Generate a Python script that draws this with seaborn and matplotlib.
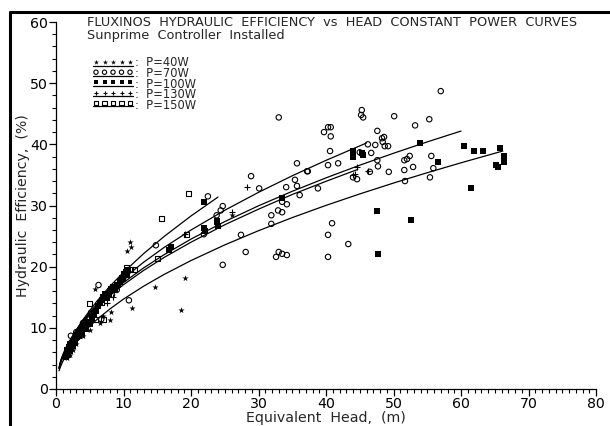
import matplotlib
matplotlib.use("Agg")
import matplotlib.pyplot as plt
from matplotlib.lines import Line2D
import seaborn as sns
import numpy as np

# ---------------- data ----------------
# fitted constant-power curves (Head m, Efficiency %)
curve_a_h = [0.45, 0.7, 1, 1.5, 2, 3, 4, 6, 8, 10, 13, 16, 20, 24]
curve_a_e = [3.3, 4.21, 5.16, 6.50, 7.65, 9.63, 11.34, 14.28, 16.81, 19.08, 22.15, 24.92, 28.29, 31.38]

curve_b_h = [0.45, 0.7, 1, 1.5, 2, 3, 4, 6, 8, 10, 13, 16, 20, 25, 30, 35, 40, 46]
curve_b_e = [3.4, 4.49, 5.41, 6.69, 7.78, 9.62, 11.19, 13.83, 16.08, 18.08, 20.74, 23.13, 25.99, 29.22, 32.15, 34.86, 37.38, 40.22]

curve_c_h = [0.45, 0.7, 1, 1.5, 2, 3, 4, 6, 8, 10, 13, 16, 20, 25, 30, 35, 40, 45, 50, 55, 60]
curve_c_e = [3.45, 4.68, 5.58, 6.82, 7.86, 9.60, 11.07, 13.52, 15.59, 17.40, 19.81, 21.95, 24.51, 27.37, 29.95, 32.32, 34.52, 36.59, 38.54, 40.40, 42.17]

curve_d_h = [0.45, 0.7, 1, 1.5, 2, 3, 4, 6, 8, 10, 13, 16, 20, 25, 30, 35, 40, 44.7]
curve_d_e = [3.4, 4.57, 5.45, 6.68, 7.70, 9.40, 10.85, 13.25, 15.30, 17.05, 19.40, 21.50, 24.00, 26.85, 29.40, 31.80, 33.95, 35.90]

curve_e_h = [0.45, 0.7, 1, 1.5, 2, 3, 4, 6, 8, 10, 13, 16, 20, 25, 30, 35, 40, 45, 50, 55, 60, 66.2]
curve_e_e = [2.98, 3.74, 4.49, 5.53, 6.42, 7.91, 9.17, 11.30, 13.10, 14.70, 16.82, 18.72, 21.00, 23.56, 25.88, 28.02, 30.02, 31.89, 33.67, 35.36, 36.98, 38.91]

# measured points
p40_h = [1.6, 2.0, 2.5, 3.0, 4.0, 5.0, 5.8, 6.5, 7.0, 8.0, 8.1, 10.5, 11.0, 11.1, 11.3, 14.7, 18.5, 19.1, 26.1]
p40_e = [5.0, 5.6, 6.3, 7.4, 8.6, 9.6, 16.3, 10.8, 12.0, 11.3, 12.6, 22.5, 24.0, 23.2, 13.2, 16.7, 12.9, 18.1, 28.4]

p70_h = [57.0, 45.3, 45.2, 45.5, 50.1, 53.2, 55.3, 40.3, 40.7, 39.7, 40.7, 47.6, 48.3, 48.6, 48.4, 48.7, 49.2,
         46.2, 47.3, 40.6, 45.0, 46.7, 47.6, 47.7, 40.3, 41.8, 51.6, 52.0, 52.4, 55.6, 51.6, 52.9, 55.9, 49.3,
         46.5, 55.4, 51.7, 38.8, 44.0, 44.6, 37.2, 40.9, 40.3, 43.3, 40.3, 33.0, 35.7, 37.3, 35.4, 35.7, 34.1,
         36.1, 28.9, 30.1, 33.5, 34.2, 31.9, 32.9, 33.5, 27.4, 28.1, 33.0, 33.5, 34.2, 32.6, 24.7, 31.9, 22.5,
         24.4, 24.7, 23.8, 21.9, 14.8, 10.8, 6.7, 6.3, 2.2, 5.2, 7.5, 9.0, 4.0, 3.0, 10.2, 8.3, 1.8]
p70_e = [48.7, 45.6, 44.8, 44.4, 44.6, 43.1, 44.1, 42.8, 42.8, 42.0, 41.3, 42.2, 41.0, 41.2, 40.4, 39.7, 39.7,
         40.0, 39.9, 38.9, 38.7, 38.6, 37.4, 36.4, 36.6, 36.9, 37.4, 37.6, 38.1, 38.1, 35.8, 36.3, 36.1, 35.5,
         35.5, 34.6, 34.0, 32.8, 34.6, 34.3, 35.6, 27.1, 25.2, 23.7, 21.6, 44.4, 36.9, 35.6, 34.2, 33.2, 33.0,
         31.7, 34.8, 32.8, 30.6, 30.2, 28.4, 29.2, 28.9, 25.2, 22.4, 22.4, 22.1, 21.9, 21.6, 20.3, 27.0, 31.5,
         29.2, 29.9, 28.4, 25.3, 23.5, 14.5, 11.4, 17.0, 8.7, 12.5, 15.0, 16.2, 10.8, 9.3, 18.5, 15.4, 6.5]

p100_h = [1.5, 1.6, 1.7, 1.8, 1.9, 2.0, 2.1, 2.3, 2.5, 2.6, 2.8, 3.0, 3.2, 3.4, 3.6, 3.8, 4.0, 4.3, 4.5, 4.8,
          5.0, 5.3, 5.6, 5.9, 6.2, 6.5, 6.8, 7.0, 7.2, 7.5, 7.8, 8.0, 8.2, 8.5, 8.8, 9.0, 9.5, 9.8, 10.0, 10.3,
          10.5, 10.7, 17.0, 16.8, 21.9, 22.0, 21.9, 23.8, 24.0, 23.9, 33.5, 44.0, 44.0, 45.3, 45.5, 47.6, 52.6,
          47.7, 53.9, 56.6, 60.4, 61.9, 63.3, 65.8, 66.4, 66.4, 65.2, 65.5, 61.5]
p100_e = [5.2, 5.8, 6.3, 5.5, 6.8, 7.2, 6.2, 7.6, 7.0, 8.0, 7.5, 8.4, 9.0, 8.6, 9.6, 9.2, 10.0, 10.4, 9.8, 11.0,
          10.6, 11.6, 12.2, 12.8, 13.5, 14.0, 14.6, 15.1, 15.6, 14.8, 15.4, 16.0, 16.4, 16.6, 16.2, 17.0, 17.6, 18.2, 18.8, 19.2,
          18.6, 19.5, 23.2, 22.8, 26.3, 25.8, 30.6, 27.5, 26.6, 27.3, 31.2, 38.9, 37.9, 38.6, 38.2, 29.1, 27.6,
          22.1, 40.2, 37.1, 39.7, 38.9, 38.9, 39.4, 38.1, 37.1, 36.6, 36.3, 32.8]

p130_h = [1.7, 2.4, 3.3, 4.5, 5.5, 7.5, 8.5, 9.5, 19.1, 26.1, 28.3, 44.0, 44.3, 44.6, 46.2]
p130_e = [6.0, 7.3, 8.8, 10.5, 12.0, 14.0, 15.0, 17.2, 25.3, 28.9, 33.0, 35.0, 35.1, 36.3, 35.6]

p150_h = [19.6, 15.7, 19.4, 15.0, 11.0, 11.7, 10.5, 10.3, 5.0, 5.9, 2.0, 3.0, 4.2, 6.8, 8.6, 9.8, 7.0]
p150_e = [31.9, 27.8, 25.3, 21.4, 19.6, 19.6, 19.9, 19.0, 13.9, 11.3, 7.5, 8.6, 10.2, 14.2, 16.5, 18.0, 11.3]

legend_labels = ["P=40W", "P=70W", "P=100W", "P=130W", "P=150W"]

title1 = "FLUXINOS  HYDRAULIC  EFFICIENCY  vs  HEAD  CONSTANT  POWER  CURVES"
title2 = "Sunprime  Controller  Installed"
xlabel = "Equivalent  Head,  (m)"
ylabel = "Hydraulic  Efficiency,  (%)"

# ---------------- plot ----------------
sns.set_style("white")
plt.rcParams['font.family'] = ['DejaVu Sans']

W, H = 610, 426
fig = plt.figure(figsize=(W / 100, H / 100), dpi=100)
ax = fig.add_axes([56 / W, 1 - 389 / H, 540 / W, (389 - 22) / H])

for ch, ce in [(curve_a_h, curve_a_e), (curve_b_h, curve_b_e), (curve_c_h, curve_c_e),
               (curve_d_h, curve_d_e), (curve_e_h, curve_e_e)]:
    sns.lineplot(x=ch, y=ce, color='black', linewidth=0.9, estimator=None, ax=ax)

styles = [
    dict(marker='*', s=22, color='black', linewidth=0),
    dict(marker='o', s=15, facecolors='none', edgecolors='black', linewidth=0.8),
    dict(marker='s', s=14, color='black', linewidth=0),
    dict(marker='+', s=18, color='black', linewidth=0.8),
    dict(marker='s', s=13, facecolors='none', edgecolors='black', linewidth=0.8),
]
series = [(p40_h, p40_e), (p70_h, p70_e), (p100_h, p100_e), (p130_h, p130_e), (p150_h, p150_e)]
for (sh, se), st in zip(series, styles):
    sns.scatterplot(x=sh, y=se, ax=ax, zorder=3, **st)

ax.set_xlim(0, 80)
ax.set_ylim(0, 60)
ax.set_xticks(np.arange(0, 81, 10))
ax.set_yticks(np.arange(0, 61, 10))
ax.set_xticks(np.arange(0, 81, 1), minor=True)
ax.set_yticks(np.arange(0, 61, 2), minor=True)
ax.tick_params(axis='both', which='major', direction='out', length=5, width=0.9, labelsize=10.2,
               colors='black', pad=1.0)
ax.tick_params(axis='both', which='minor', direction='out', length=3, width=0.8, colors='black')
ax.tick_params(bottom=True, left=True, which='both')
for sp in ['top', 'right']:
    ax.spines[sp].set_visible(False)
for sp in ['left', 'bottom']:
    ax.spines[sp].set_color('black')
    ax.spines[sp].set_linewidth(0.9)
ax.set_xlabel(xlabel, fontsize=10.2, labelpad=0)
ax.set_ylabel(ylabel, fontsize=10.2, labelpad=0)
ax.grid(False)

# titles
fig.text(87 / W, 1 - 22 / H, title1, ha='left', va='center', fontsize=9.25)
fig.text(87 / W, 1 - 35 / H, title2, ha='left', va='center', fontsize=9.25)

# legend (drawn manually: 5 markers over an underline, then label block)
leg_x0, leg_dx = 96, 8.5
leg_y0, leg_dy = 62, 10.2
for i, st in enumerate(styles):
    yy = leg_y0 + i * leg_dy
    xs = [(leg_x0 + k * leg_dx) / W for k in range(5)]
    st2 = dict(st)
    st2['s'] = st['s'] * 0.65
    ax.scatter(xs, [1 - yy / H] * 5, transform=fig.transFigure, clip_on=False, zorder=5, **st2)
    fig.add_artist(Line2D([(leg_x0 - 3) / W, (leg_x0 + 4 * leg_dx + 3) / W],
                          [1 - (yy + 3.5) / H] * 2, color='black', lw=0.9))
legend_block = "\n".join(":  " + lab for lab in legend_labels)
fig.text((leg_x0 + 4 * leg_dx + 5) / W, 1 - (leg_y0 - 5.5) / H, legend_block, ha='left', va='top',
         fontsize=8.3, linespacing=0.76)

# page frame (top and left border)
fig.add_artist(Line2D([10 / W, 10 / W], [0, 1 - 12 / H], color='black', lw=2.2))
fig.add_artist(Line2D([10 / W, 1], [1 - 12 / H, 1 - 12 / H], color='black', lw=2.2))

fig.savefig("out.png", dpi=100)
